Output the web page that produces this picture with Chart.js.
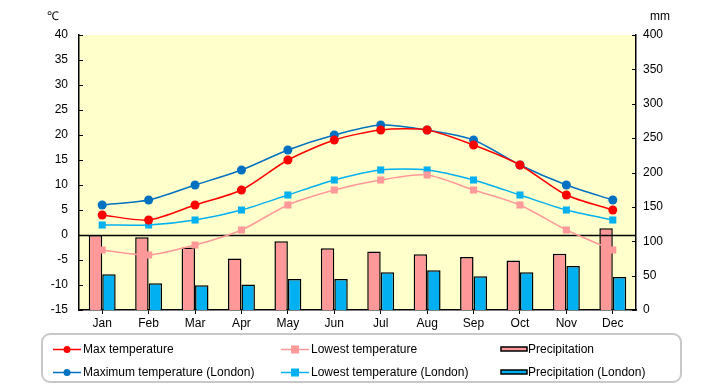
<!DOCTYPE html>
<html>
<head>
<meta charset="utf-8">
<script src="https://cdn.jsdelivr.net/npm/chart.js@4/dist/chart.umd.min.js"></script>
<style>
  html, body { margin: 0; padding: 0; background: #ffffff; }
  #wrap { position: relative; width: 720px; height: 385px; font-family: "Liberation Sans", Arial, sans-serif; }
  #c { position: absolute; left: 0; top: 0; }
  #legend { position: absolute; left: 41px; top: 333px; width: 641px; height: 50px;
            border: 2px solid #c8c8c8; border-radius: 9px; box-sizing: border-box; }
  .li { position: absolute; font-size: 12px; color: #000; white-space: nowrap; line-height: 14px; }
  .li canvas { position: absolute; left: 0; top: 0; }
  .li span { position: absolute; top: 0; }
</style>
</head>
<body>
<div id="wrap">
  <canvas id="c" width="720" height="385"></canvas>
  <div id="legend"></div>
</div>
<script>
const months = ["Jan","Feb","Mar","Apr","May","Jun","Jul","Aug","Sep","Oct","Nov","Dec"];
const maxTemp = [4, 3, 6, 9, 15, 19, 21, 21, 18, 14, 8, 5];
const lowTemp = [-3, -4, -2, 1, 6, 9, 11, 12, 9, 6, 1, -3];
const precip = [109, 106, 91, 75, 100, 90, 85, 81, 77, 72, 82, 119];
const maxTempLondon = [6, 7, 10, 13, 17, 20, 22, 21, 19, 14, 10, 7];
const lowTempLondon = [2, 2, 3, 5, 8, 11, 13, 13, 11, 8, 5, 3];
const precipLondon = [52, 39, 36, 37, 45, 45, 55, 58, 49, 55, 64, 48];
const tempTicks = [-15, -10, -5, 0, 5, 10, 15, 20, 25, 30, 35, 40];
const mmTicks = [0, 50, 100, 150, 200, 250, 300, 350, 400];

const FONT = "'Liberation Sans', Arial, sans-serif";

const bgPlugin = {
  id: 'bg',
  beforeDraw(chart) {
    const {ctx, chartArea: a} = chart;
    ctx.save();
    ctx.fillStyle = '#ffffcc';
    ctx.fillRect(a.left, a.top, a.right - a.left, a.bottom - a.top);
    ctx.restore();
  },
  afterDatasetDraw(chart, args) {
    if (args.index !== 2) return;
    const {ctx, chartArea: a} = chart;
    const y = Math.round(chart.scales.y.getPixelForValue(0)) + 0.5;
    ctx.save();
    ctx.strokeStyle = '#000';
    ctx.lineWidth = 1.5;
    ctx.beginPath(); ctx.moveTo(a.left, y); ctx.lineTo(a.right, y); ctx.stroke();
    ctx.restore();
  },
  afterDraw(chart) {
    const {ctx, chartArea: a} = chart;
    ctx.save();
    ctx.strokeStyle = '#000';
    ctx.lineWidth = 1;
    chart.scales.y.ticks.forEach(t => {
      const y = Math.round(chart.scales.y.getPixelForValue(t.value)) + 0.5;
      ctx.beginPath(); ctx.moveTo(a.left, y); ctx.lineTo(a.left + 4, y); ctx.stroke();
    });
    chart.scales.y1.ticks.forEach(t => {
      const y = Math.round(chart.scales.y1.getPixelForValue(t.value)) + 0.5;
      ctx.beginPath(); ctx.moveTo(a.right - 4, y); ctx.lineTo(a.right, y); ctx.stroke();
    });
    ctx.fillStyle = '#000';
    ctx.font = '12px ' + FONT;
    ctx.textBaseline = 'middle';
    ctx.textAlign = 'left';
    ctx.fillText('℃', 47, 17);
    ctx.fillText('mm', 650, 17);
    ctx.restore();
  }
};

const lineDs = (label, data, color, style) => ({
  type: 'line', label, data, yAxisID: 'y', order: 1,
  borderColor: color, backgroundColor: color, borderWidth: 1.5,
  pointStyle: style, pointRadius: style === 'rect' ? 5 : 4.5, pointBorderWidth: 0,
  pointBackgroundColor: color, tension: 0.25, fill: false
});

const chart = new Chart(document.getElementById('c'), {
  data: {
    labels: months,
    datasets: [
      lineDs('Max temperature', maxTemp, '#ff0000', 'circle'),
      lineDs('Lowest temperature', lowTemp, '#ff9999', 'rect'),
      { type: 'bar', label: 'Precipitation', data: precip, yAxisID: 'y1', order: 2,
        backgroundColor: '#ff9999', borderColor: '#000', borderWidth: 1.5,
        barPercentage: 1, categoryPercentage: 0.58 },
      lineDs('Maximum temperature (London)', maxTempLondon, '#0070c0', 'circle'),
      lineDs('Lowest temperature (London)', lowTempLondon, '#00b0f0', 'rect'),
      { type: 'bar', label: 'Precipitation (London)', data: precipLondon, yAxisID: 'y1', order: 3,
        backgroundColor: '#00b0f0', borderColor: '#000', borderWidth: 1.5,
        barPercentage: 1, categoryPercentage: 0.58 }
    ]
  },
  options: {
    responsive: false,
    animation: false,
    layout: { padding: { left: 0, right: 0, top: 35, bottom: 55 } },
    plugins: { legend: { display: false }, tooltip: { enabled: false } },
    scales: {
      x: {
        offset: true,
        grid: { offset: false, drawOnChartArea: false, tickLength: 4, color: '#000', tickColor: '#000' },
        border: { color: '#000', width: 1.5 },
        ticks: { color: '#000', font: { size: 12, family: FONT }, padding: 2, maxRotation: 0 },
        afterFit(s) { s.height = 20; }
      },
      y: {
        position: 'left', min: -15, max: 40,
        afterBuildTicks(s) { s.ticks = tempTicks.map(v => ({ value: v })); },
        grid: { display: false },
        border: { color: '#000', width: 1.5 },
        ticks: { color: '#000', font: { size: 12, family: FONT }, padding: 3 },
        afterFit(s) { s.width = 79; }
      },
      y1: {
        position: 'right', min: 0, max: 400,
        afterBuildTicks(s) { s.ticks = mmTicks.map(v => ({ value: v })); },
        grid: { display: false },
        border: { color: '#000', width: 1.5 },
        ticks: { color: '#000', font: { size: 12, family: FONT }, padding: -1 },
        afterFit(s) { s.width = 84; }
      }
    }
  },
  plugins: [bgPlugin]
});

const legend = document.getElementById('legend');
const cols = [10, 238, 457];
const rows = [7, 30];
chart.data.datasets.forEach((ds, i) => {
  const col = i % 3, row = Math.floor(i / 3);
  const item = document.createElement('div');
  item.className = 'li';
  item.style.left = cols[col] + 'px';
  item.style.top = rows[row] + 'px';
  const cv = document.createElement('canvas');
  cv.width = 28; cv.height = 14;
  const g = cv.getContext('2d');
  if (ds.type === 'line') {
    g.strokeStyle = ds.borderColor; g.lineWidth = 1.5;
    g.beginPath(); g.moveTo(0, 7.5); g.lineTo(28, 7.5); g.stroke();
    g.fillStyle = ds.borderColor;
    if (ds.pointStyle === 'circle') { g.beginPath(); g.arc(14, 7.5, 3.5, 0, Math.PI * 2); g.fill(); }
    else { g.fillRect(10, 3.5, 8, 8); }
  } else {
    g.fillStyle = ds.backgroundColor; g.fillRect(1, 5, 26, 4);
    g.strokeStyle = '#000'; g.lineWidth = 1.5; g.strokeRect(1, 5, 26, 4);
  }
  item.appendChild(cv);
  const sp = document.createElement('span');
  sp.style.left = (ds.type === 'line' ? 30 : 28) + 'px';
  sp.textContent = ds.label;
  item.appendChild(sp);
  legend.appendChild(item);
});
</script>
</body>
</html>
